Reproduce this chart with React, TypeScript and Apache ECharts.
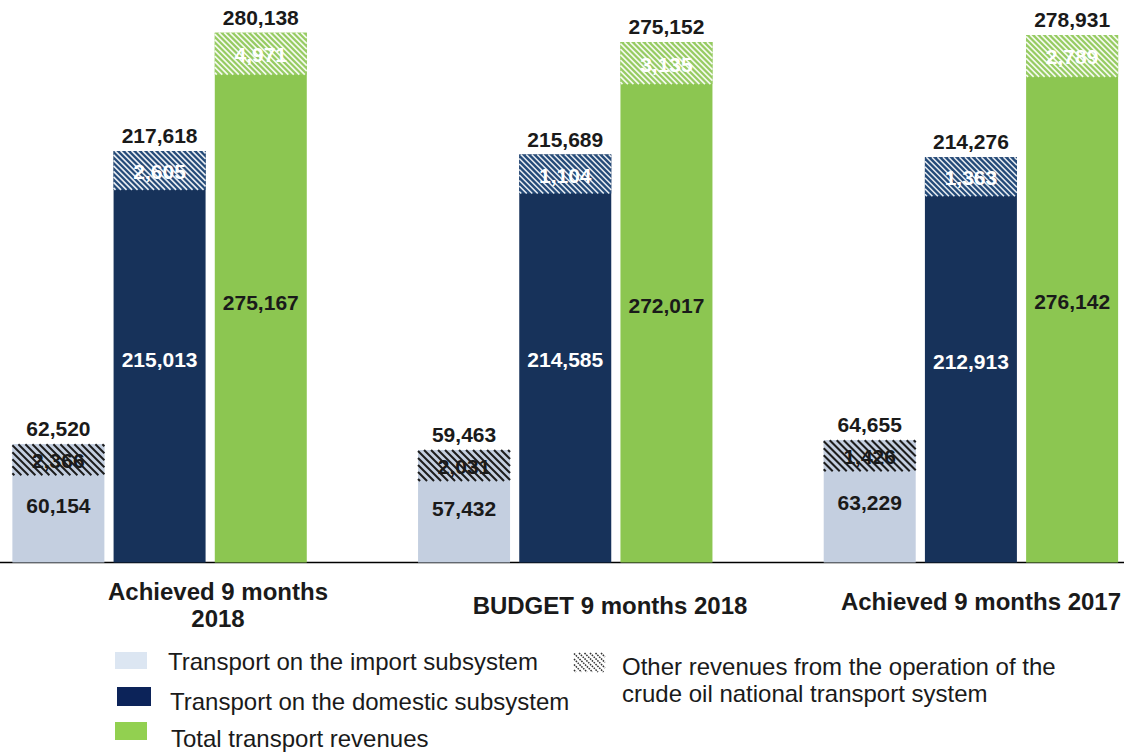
import React, { useEffect, useRef } from "react";
import * as echarts from "echarts";

const categories = ["Achieved 9 months 2018", "BUDGET 9 months 2018", "Achieved 9 months 2017"];
const importBase = [60154, 57432, 63229];
const importOther = [2366, 2031, 1426];
const domesticBase = [215013, 214585, 212913];
const domesticOther = [2605, 1104, 1363];
const totalBase = [275167, 272017, 276142];
const totalOther = [4971, 3135, 2789];

const legendNames = [
  "Transport on the import subsystem",
  "Transport on the domestic subsystem",
  "Total transport revenues",
  "Other revenues from the operation of the\ncrude oil national transport system",
];

const FONT = '"Liberation Sans", Arial, sans-serif';
const C_IMP = "#C4CFE0";
const C_DOM = "#17325A";
const C_TOT = "#8CC651";
const BAR_W = 92;
const GAP_PCT = 0.1;
const BAND_H = [31, 39, 42];
const fmt = (v: number) => Math.round(v).toLocaleString("en-US");

function hatchLines(x: number, y: number, w: number, h: number, s: number, stroke: string, lw: number, dash?: number[]) {
  const out: any[] = [];
  for (let c = -h + 2; c < w; c += s) {
    let sx, sy, ex, ey;
    if (c >= 0) { sx = x + c; sy = y; } else { sx = x; sy = y - c; }
    if (h + c <= w) { ex = x + h + c; ey = y + h; } else { ex = x + w; ey = y + (w - c); }
    out.push({ type: "line", shape: { x1: sx, y1: sy, x2: ex, y2: ey }, style: { stroke, lineWidth: lw, lineDash: dash }, silent: true });
  }
  return out;
}

export default function App() {
  const ref = useRef<HTMLDivElement>(null);
  useEffect(() => {
    const chart = echarts.init(ref.current!, null, { renderer: "svg" });
    const colors = [C_IMP, C_DOM, C_TOT];
    const bases = [importBase, domesticBase, totalBase];
    const others = [importOther, domesticOther, totalOther];
    const baseLabelColor = ["#1a1a1a", "#ffffff", "#1a1a1a"];
    const bandLine = ["#1c1c1c", "rgba(255,255,255,0.9)", "rgba(255,255,255,0.9)"];
    const bandBg = [C_IMP, "#244A78", "#96CB62"];
    const bandText = ["#1a1a1a", "#ffffff", "#ffffff"];

    const series: any[] = [];
    for (let k = 0; k < 3; k++) {
      series.push({
        type: "bar",
        stack: "s" + k,
        barWidth: BAR_W,
        barGap: GAP_PCT * 100 + "%",
        itemStyle: { color: colors[k] },
        label: {
          show: true,
          position: "inside",
          formatter: (p: any) => fmt(p.value),
          color: baseLabelColor[k],
          fontSize: 21,
          fontWeight: "bold",
          fontFamily: FONT,
        },
        data: bases[k],
        z: 2,
      });
      series.push({
        type: "bar",
        stack: "s" + k,
        barWidth: BAR_W,
        barGap: GAP_PCT * 100 + "%",
        itemStyle: { color: colors[k] },
        label: {
          show: true,
          position: "top",
          distance: 5,
          formatter: (p: any) => fmt(bases[k][p.dataIndex] + others[k][p.dataIndex]),
          color: "#1a1a1a",
          fontSize: 21,
          fontWeight: "bold",
          fontFamily: FONT,
        },
        data: others[k],
        z: 2,
      });
    }

    const bandData: number[][] = [];
    categories.forEach((_, i) => {
      for (let k = 0; k < 3; k++) bandData.push([i, bases[k][i] + others[k][i], others[k][i], k]);
    });

    series.push({
      type: "custom",
      z: 5,
      encode: { x: 0, y: 1 },
      data: bandData,
      renderItem: (params: any, api: any) => {
        const cat = api.value(0);
        const total = api.value(1);
        const other = api.value(2);
        const k = api.value(3);
        const p = api.coord([cat, total]);
        const step = BAR_W * (1 + GAP_PCT);
        const cx = p[0] + (k - 1) * step;
        const x = cx - BAR_W / 2;
        const y = p[1];
        const h = BAND_H[k];
        return {
          type: "group",
          children: [
            { type: "rect", shape: { x, y, width: BAR_W, height: h }, style: { fill: bandBg[k] } },
            ...hatchLines(x, y, BAR_W, h, k === 0 ? 7 : 5.5, bandLine[k], k === 0 ? 2 : 1.6),
            {
              type: "text",
              style: {
                text: fmt(other),
                x: cx,
                y: y + h / 2 + 1,
                align: "center",
                verticalAlign: "middle",
                font: `bold 21px ${FONT}`,
                fill: bandText[k],
              },
            },
          ],
        };
      },
    });

    const graphic: any[] = [
      { type: "line", shape: { x1: 0, y1: 562.5, x2: 1124, y2: 562.5 }, style: { stroke: "#000", lineWidth: 1.5 } },
      { type: "text", style: { text: "Achieved 9 months", x: 218, y: 591, align: "center", verticalAlign: "middle", font: `bold 24px ${FONT}`, fill: "#1a1a1a" } },
      { type: "text", style: { text: "2018", x: 218, y: 618, align: "center", verticalAlign: "middle", font: `bold 24px ${FONT}`, fill: "#1a1a1a" } },
      { type: "text", style: { text: categories[1], x: 610, y: 605, align: "center", verticalAlign: "middle", font: `bold 24px ${FONT}`, fill: "#1a1a1a" } },
      { type: "text", style: { text: categories[2], x: 981, y: 601, align: "center", verticalAlign: "middle", font: `bold 24px ${FONT}`, fill: "#1a1a1a" } },
      { type: "rect", shape: { x: 115, y: 652, width: 32, height: 17 }, style: { fill: "#DCE6F2" } },
      { type: "rect", shape: { x: 117, y: 687, width: 34, height: 19 }, style: { fill: "#0C2359" } },
      { type: "rect", shape: { x: 115, y: 722, width: 32, height: 18 }, style: { fill: "#92D050" } },
      { type: "text", style: { text: legendNames[0], x: 168, y: 661, verticalAlign: "middle", font: `24px ${FONT}`, fill: "#1a1a1a" } },
      { type: "text", style: { text: legendNames[1], x: 170, y: 701, verticalAlign: "middle", font: `24px ${FONT}`, fill: "#1a1a1a" } },
      { type: "text", style: { text: legendNames[2], x: 171, y: 738, verticalAlign: "middle", font: `24px ${FONT}`, fill: "#1a1a1a" } },
      { type: "text", style: { text: legendNames[3], x: 622, y: 680, verticalAlign: "middle", font: `24px ${FONT}`, lineHeight: 27, fill: "#1a1a1a" } },
      { type: "group", children: hatchLines(574, 653, 31, 19, 5.5, "#333", 1.5, [1.6, 1]) },
    ];

    chart.setOption({
      animation: false,
      textStyle: { fontFamily: FONT },
      grid: { left: -43.25, right: -44.75, top: 14, bottom: 190.5, containLabel: false, outerBoundsMode: "none" },
      xAxis: {
        type: "category",
        data: categories,
        axisLine: { show: false },
        axisTick: { show: false },
        axisLabel: { show: false },
      },
      yAxis: { type: "value", min: 0, max: 290000, show: false, splitLine: { show: false } },
      series,
      graphic,
    });
    return () => chart.dispose();
  }, []);
  return <div ref={ref} style={{ position: "absolute", left: 0, top: 0, width: 1129, height: 753, background: "#fff" }} />;
}
